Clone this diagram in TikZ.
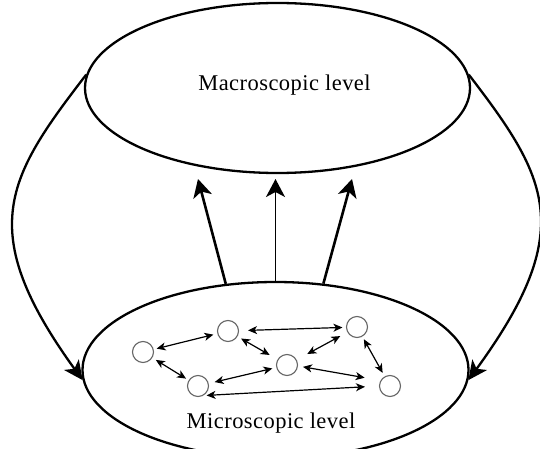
\documentclass[tikz,border=0pt]{standalone}
\usepackage{fontspec}
\setmainfont{Liberation Serif}
\usetikzlibrary{shapes.geometric,arrows.meta,calc}
\begin{document}
\begin{tikzpicture}[x=1pt,y=-1pt,
  lvl/.style={ellipse,draw,line width=2.3pt,inner sep=0pt},
  lbl/.style={anchor=base,inner sep=0pt,font=\fontsize{22.5}{27}\selectfont\addfontfeatures{LetterSpace=2}},
  agent/.style={circle,draw=black!60,line width=1.1pt,minimum size=21pt,inner sep=0pt},
  link/.style={{Stealth[length=9pt,width=8pt,inset=2.5pt]}-{Stealth[length=9pt,width=8pt,inset=2.5pt]},line width=1.2pt},
  emerge/.style={-{Stealth[length=18pt,width=19pt,inset=5pt]},line width=2.6pt},
  feedback/.style={-{Stealth[length=19pt,width=18pt,inset=5pt]},line width=2.3pt}]
\useasboundingbox (0,0) rectangle (540,449);
\fill[white] (0,0) rectangle (540,449);

\node[lvl,minimum width=385pt,minimum height=170pt] (macro) at (277.5,88) {};
\node[lvl,minimum width=386pt,minimum height=176pt] (micro) at (275.5,370) {};

\node[lbl] (macrotext) at (284.5,91) {Macroscopic level};
\node[lbl] (microtext) at (271,428) {Microscopic level};

\node[agent] (c1) at (143,352) {};
\node[agent] (c2) at (228,331) {};
\node[agent] (c3) at (357,327) {};
\node[agent] (c4) at (287,365) {};
\node[agent] (c5) at (198,386) {};
\node[agent] (c6) at (390,386) {};

\draw[link,shorten <=3pt,shorten >=4pt] (c1) -- (c2);
\draw[link,shorten <=4pt,shorten >=3pt] (c1) -- (c5);
\draw[link,shorten <=4pt,shorten >=9pt] (c2) -- (c4);
\draw[link,shorten <=6pt,shorten >=4pt] (c5) -- (c4);
\draw[link,shorten <=8pt,shorten >=12pt] (c3) -- (c4);
\draw[link,shorten <=3pt,shorten >=4pt] (c3) -- (c6);
\draw[link,shorten <=9pt,shorten >=3.5pt] (c2) -- (c3);
\draw[link,shorten <=5pt,shorten >=16pt] (c4.-5) -- (c6.150);
\draw[link,shorten <=3pt,shorten >=14pt] (c5.-60) -- (c6.west);

\coordinate (t1) at (198,179);
\coordinate (t2) at (275.5,179);
\coordinate (t3) at (352,179);
\draw[emerge] (micro.120) -- (t1);
\draw[emerge,line width=1.4pt] (micro.north) -- (t2);
\draw[emerge] (micro.61) -- (t3);

\draw[feedback] (macro.176) .. controls (7,177.6) and (-26,230) .. (micro.183);
\draw[feedback] (macro.4) .. controls (547.8,177.6) and (578,230) .. (micro.357);
\end{tikzpicture}
\end{document}
